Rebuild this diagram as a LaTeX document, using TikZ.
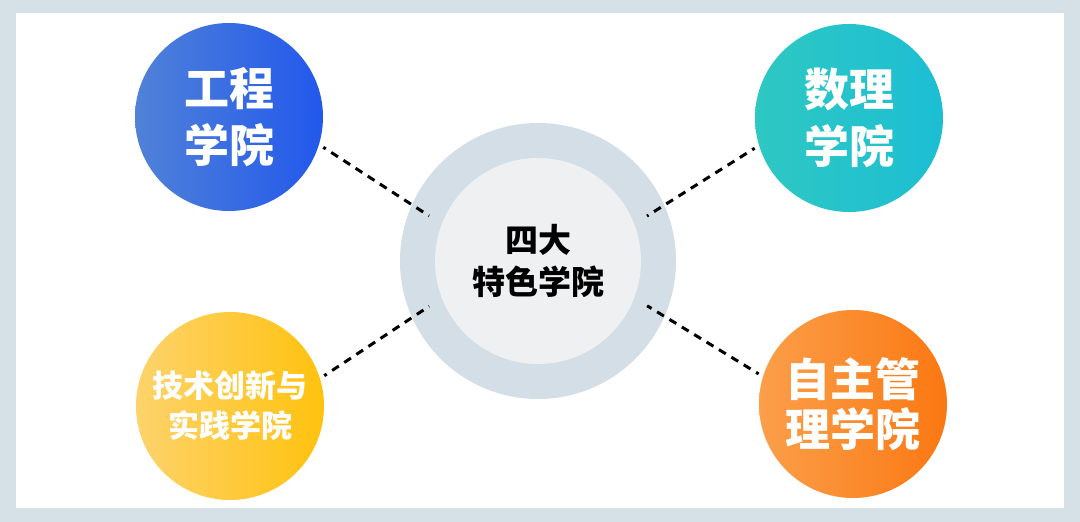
\documentclass[tikz,border=0pt]{standalone}
\usepackage{fontspec}
\newfontfamily\cjk{Noto Sans CJK SC}[BoldFont={* Black}]
\definecolor{framegray}{HTML}{D6E0E7}
\definecolor{ringgray}{HTML}{D3DEE6}
\definecolor{hubgray}{HTML}{EFF0F2}
\definecolor{blueL}{HTML}{5082D8}
\definecolor{blueR}{HTML}{2258EC}
\definecolor{tealL}{HTML}{2EC8C2}
\definecolor{tealR}{HTML}{1CBED4}
\definecolor{yelL}{HTML}{FDD36C}
\definecolor{yelR}{HTML}{FFC20E}
\definecolor{orgL}{HTML}{FB9F4A}
\definecolor{orgR}{HTML}{FB7812}
\begin{document}
\begin{tikzpicture}[x=1pt, y=-1pt,
  school/.style={circle, minimum size=188pt, inner sep=0pt, text=white, align=center,
    font=\cjk\bfseries\fontsize{45}{57}\selectfont},
  link/.style={line width=3pt, dash pattern=on 8pt off 6.5pt, dash phase=5pt,
    shorten <=5pt, shorten >=15pt}]
% frame
\fill[framegray] (0,0) rectangle (1080,522);
\fill[white] (16,13) rectangle (1064,508);
% centre
\node[circle, fill=ringgray, minimum size=276pt, inner sep=0pt] (ring) at (538,261) {};
\node[circle, fill=hubgray, minimum size=206pt, inner sep=0pt, align=center,
  font=\cjk\bfseries\fontsize{33}{42}\selectfont] (hub) at (538,261) {四大\\特色学院};
% four schools
\node[school, left color=blueL, right color=blueR] (0) at (229,117) {工程\\学院};
\node[school, left color=tealL, right color=tealR] (1) at (849,118) {数理\\学院};
\node[school, left color=yelL, right color=yelR,
  font=\cjk\bfseries\fontsize{31}{40}\selectfont] (2) at (230,406) {技术创新与\\实践学院};
\node[school, left color=orgL, right color=orgR,
  font=\cjk\bfseries\fontsize{45}{50}\selectfont] (3) at (853,404) {自主管\\理学院};
% links
\draw[link] (0.-17) -- (hub.159);
\draw[link] (1.197) -- (hub.21);
\draw[link] (2.17) -- (hub.201);
\draw[link] (3.163) -- (hub.-21);
\end{tikzpicture}
\end{document}
